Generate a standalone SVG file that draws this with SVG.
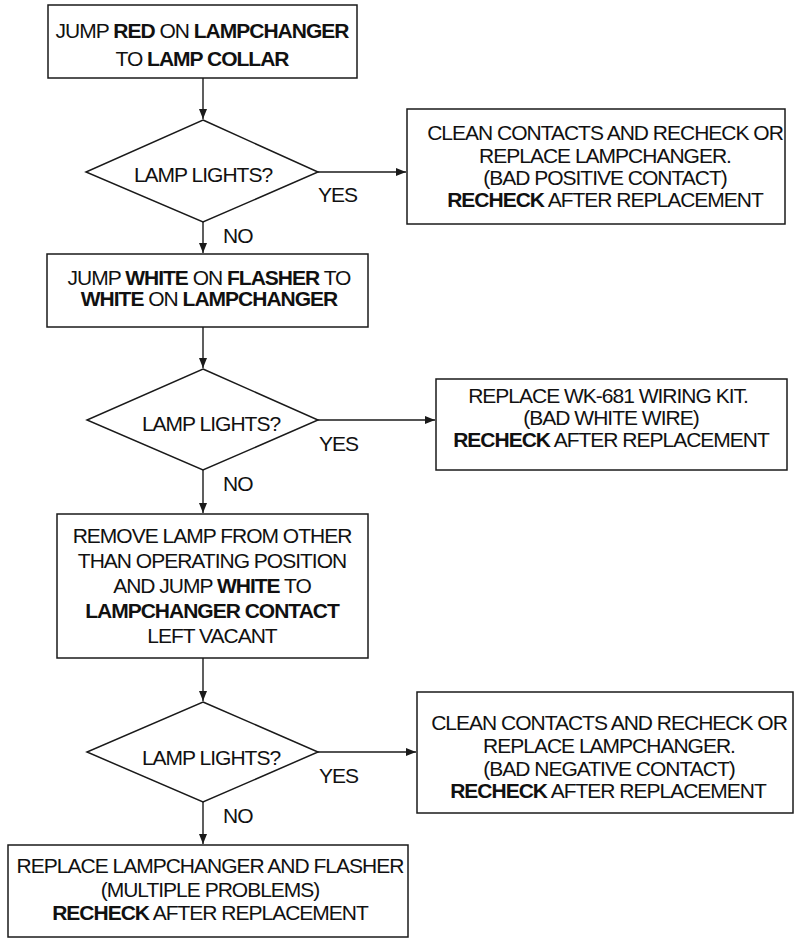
<svg xmlns="http://www.w3.org/2000/svg" width="798" height="943" viewBox="0 0 798 943">
<style>
  .box { fill: #fff; stroke: #1a1a1a; stroke-width: 1.5; }
  .conn { stroke: #1a1a1a; stroke-width: 1.4; fill: none; marker-end: url(#ah); }
  text { font-family: "Liberation Sans", Arial, sans-serif; font-size: 21px; fill: #111; letter-spacing: -1px; }
  .c { text-anchor: middle; }
  .b { font-weight: bold; }
</style>
<defs>
  <marker id="ah" markerUnits="userSpaceOnUse" markerWidth="12" markerHeight="10" refX="10" refY="4" orient="auto">
    <path d="M0,0 L10,4 L0,8 z" fill="#1a1a1a"/>
  </marker>
</defs>
<rect width="798" height="943" fill="#fff"/>

<g id="connectors">
  <line class="conn" x1="203" y1="78" x2="203" y2="119"/>
  <line class="conn" x1="318" y1="172" x2="406" y2="172"/>
  <line class="conn" x1="203" y1="222" x2="203" y2="253"/>
  <line class="conn" x1="203" y1="327" x2="203" y2="368"/>
  <line class="conn" x1="318" y1="420" x2="435" y2="420"/>
  <line class="conn" x1="203" y1="470" x2="203" y2="513"/>
  <line class="conn" x1="203" y1="658" x2="203" y2="701"/>
  <line class="conn" x1="318" y1="752" x2="416" y2="752"/>
  <line class="conn" x1="203" y1="802" x2="203" y2="844"/>
  <text x="318" y="202">YES</text>
  <text x="223" y="243">NO</text>
  <text x="319" y="451">YES</text>
  <text x="223" y="491">NO</text>
  <text x="319" y="783">YES</text>
  <text x="223" y="823">NO</text>
</g>

<g id="box1">
  <rect class="box" x="48" y="5" width="309" height="73"/>
  <text class="c" x="202" y="38">JUMP <tspan class="b">RED</tspan> ON <tspan class="b">LAMPCHANGER</tspan></text>
  <text class="c" x="202" y="66">TO <tspan class="b">LAMP COLLAR</tspan></text>
</g>

<g id="decision1">
  <polygon class="box" points="203,120 318,172 203,222 86,172"/>
  <text class="c" x="203" y="182">LAMP LIGHTS?</text>
</g>

<g id="box3">
  <rect class="box" x="407" y="109" width="378" height="115"/>
  <text class="c" x="605" y="140">CLEAN CONTACTS AND RECHECK OR</text>
  <text class="c" x="605" y="163">REPLACE LAMPCHANGER.</text>
  <text class="c" x="605" y="185">(BAD POSITIVE CONTACT)</text>
  <text class="c" x="605" y="207"><tspan class="b">RECHECK</tspan> AFTER REPLACEMENT</text>
</g>

<g id="box2">
  <rect class="box" x="47" y="254" width="321" height="73"/>
  <text class="c" x="209" y="285">JUMP <tspan class="b">WHITE</tspan> ON <tspan class="b">FLASHER</tspan> TO</text>
  <text class="c" x="209" y="306"><tspan class="b">WHITE</tspan> ON <tspan class="b">LAMPCHANGER</tspan></text>
</g>

<g id="decision2">
  <polygon class="box" points="203,369 318,420 203,470 87,420"/>
  <text class="c" x="211" y="431">LAMP LIGHTS?</text>
</g>

<g id="box4">
  <rect class="box" x="436" y="379" width="351" height="91"/>
  <text class="c" x="608" y="403">REPLACE WK-681 WIRING KIT.</text>
  <text class="c" x="611" y="425">(BAD WHITE WIRE)</text>
  <text class="c" x="611" y="447"><tspan class="b">RECHECK</tspan> AFTER REPLACEMENT</text>
</g>

<g id="box5">
  <rect class="box" x="57" y="514" width="311" height="144"/>
  <text class="c" x="212" y="543">REMOVE LAMP FROM OTHER</text>
  <text class="c" x="212" y="568">THAN OPERATING POSITION</text>
  <text class="c" x="212" y="593">AND JUMP <tspan class="b">WHITE</tspan> TO</text>
  <text class="c" x="212" y="618"><tspan class="b">LAMPCHANGER CONTACT</tspan></text>
  <text class="c" x="212" y="643">LEFT VACANT</text>
</g>

<g id="decision3">
  <polygon class="box" points="203,702 318,752 203,802 87,752"/>
  <text class="c" x="211" y="765">LAMP LIGHTS?</text>
</g>

<g id="box6">
  <rect class="box" x="417" y="692" width="376" height="121"/>
  <text class="c" x="609" y="730">CLEAN CONTACTS AND RECHECK OR</text>
  <text class="c" x="609" y="753">REPLACE LAMPCHANGER.</text>
  <text class="c" x="609" y="776">(BAD NEGATIVE CONTACT)</text>
  <text class="c" x="608" y="798"><tspan class="b">RECHECK</tspan> AFTER REPLACEMENT</text>
</g>

<g id="box7">
  <rect class="box" x="8" y="845" width="400" height="92"/>
  <text class="c" x="210" y="873">REPLACE LAMPCHANGER AND FLASHER</text>
  <text class="c" x="210" y="897">(MULTIPLE PROBLEMS)</text>
  <text class="c" x="210" y="920"><tspan class="b">RECHECK</tspan> AFTER REPLACEMENT</text>
</g>
</svg>
